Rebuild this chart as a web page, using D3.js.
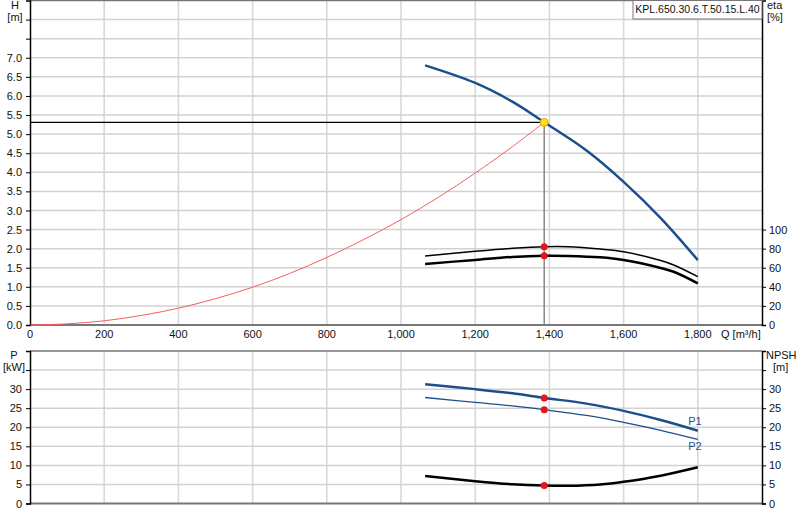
<!DOCTYPE html>
<html><head><meta charset="utf-8">
<script src="https://cdn.jsdelivr.net/npm/d3@7"></script>
<style>body{margin:0;background:#fff}svg{display:block;font-family:"Liberation Sans",Arial,sans-serif}</style>
</head><body><svg id="c" width="800" height="520"></svg>
<script>
const title = "KPL.650.30.6.T.50.15.L.40";
const xTicks = [0,200,400,600,800,1000,1200,1400,1600,1800];
const hTicks = [0,0.5,1,1.5,2,2.5,3,3.5,4,4.5,5,5.5,6,6.5,7,7.5,8];
const etaTicks = [0,20,40,60,80,100];
const pTicks = [0,5,10,15,20,25,30,35];
const duty = {q:1386, h:5.31, eta1:82, eta2:72.6, p1:27.7, p2:24.6, npsh:4.7};

const hQ = [1065,1200,1300,1386,1500,1600,1700,1800];
const hH = [6.80,6.34,5.85,5.31,4.57,3.75,2.80,1.70];
const sysQ = [0,100,200,300,400,500,600,700,800,900,1000,1100,1200,1300,1386];
const sysH = [0,0.03,0.11,0.25,0.44,0.69,0.99,1.35,1.77,2.24,2.76,3.34,3.98,4.67,5.31];
const etaQ = [1065,1200,1300,1386,1450,1537,1600,1700,1735,1800];
const eta1 = [72.3,77.2,80.3,82.0,82.0,79.6,76.8,67.5,62.8,50.6];
const eta2 = [64.0,68.2,71.3,72.6,72.4,70.9,68.1,59.8,55.8,43.7];
const pQ = [1065,1200,1300,1386,1500,1600,1700,1800];
const p1 = [31.3,30.0,28.9,27.7,26.2,24.3,21.9,19.1];
const p2 = [27.8,26.5,25.6,24.6,23.1,21.3,19.2,16.8];
const npQ = [1065,1200,1300,1386,1450,1537,1600,1700,1800];
const npsh = [7.2,5.85,5.05,4.7,4.65,5.0,5.7,7.3,9.5];

const svg = d3.select("#c");
const L=30, R=762;
const x = d3.scaleLinear().domain([0,1973]).range([L,R]);
const yH = d3.scaleLinear().domain([0,8.5]).range([325,0.5]);
const yE = d3.scaleLinear().domain([0,340]).range([325,0.5]);
const yP = d3.scaleLinear().domain([0,40]).range([503.5,351]);
const fmtX = d3.format(",");
const blue = "#1b4f8c";

function panel(y, ticksL, ticksR, fmtL, labelMaxL, labelMaxR, yR){
  const g = svg.append("g");
  const [y0,y1] = y.range();
  g.selectAll(".gv").data(xTicks.slice(1)).enter().append("line")
    .attr("x1",d=>x(d)).attr("x2",d=>x(d)).attr("y1",y1).attr("y2",y0)
    .attr("stroke","#d8d8d8").attr("stroke-width",1.6);
  g.selectAll(".gh").data(ticksL.slice(1)).enter().append("line")
    .attr("x1",L).attr("x2",R).attr("y1",d=>y(d)).attr("y2",d=>y(d))
    .attr("stroke","#d2d2d2").attr("stroke-width",1.5);
  g.append("line").attr("x1",L).attr("x2",R).attr("y1",y1).attr("y2",y1).attr("stroke","#777").attr("stroke-width",1.5);
  g.append("line").attr("x1",L).attr("x2",R).attr("y1",y0).attr("y2",y0).attr("stroke","#777").attr("stroke-width",2);
  const ax = d3.axisLeft(y).tickValues(ticksL).tickSize(4).tickPadding(4)
    .tickFormat(d=> d<=labelMaxL ? fmtL(d) : "");
  const ga = g.append("g").attr("transform",`translate(${L},0)`).call(ax);
  ga.select(".domain").attr("stroke","#000").attr("stroke-width",1.5);
  ga.selectAll("text").attr("font-size",11).attr("fill","#111").attr("font-family","Liberation Sans, Arial, sans-serif");
  const axr = d3.axisRight(yR).tickValues(ticksR).tickSize(4).tickPadding(3)
    .tickFormat(d=> d<=labelMaxR ? d : "");
  const gr = g.append("g").attr("transform",`translate(${R},0)`).call(axr);
  gr.select(".domain").attr("stroke","#000").attr("stroke-width",1.5);
  gr.selectAll("text").attr("font-size",11).attr("fill","#111").attr("font-family","Liberation Sans, Arial, sans-serif");
  return g;
}

panel(yH, hTicks, etaTicks, d3.format(".1f"), 7.0, 100, yE);
panel(yP, pTicks, pTicks, d3.format("d"), 30, 30, yP);

svg.append("g").selectAll("text").data(xTicks).enter().append("text")
  .attr("x",d=>x(d)).attr("y",338).attr("text-anchor","middle")
  .attr("font-size",11).attr("fill","#111").text(d=>fmtX(d));
svg.append("text").attr("x",721).attr("y",338).attr("font-size",11).attr("fill","#111").text("Q [m³/h]");

const T = (t,xx,yy,anchor)=>svg.append("text").attr("x",xx).attr("y",yy).attr("font-size",11).attr("fill","#111").attr("text-anchor",anchor||"middle").text(t);
T("H",15,9); T("[m]",15,21);
T("eta",767,9,"start"); T("[%]",767,21,"start");
T("P",14,359); T("[kW]",14,371);
T("NPSH",766,359,"start"); T("[m]",773,371,"start");

svg.append("rect").attr("x",633).attr("y",0.5).attr("width",129).attr("height",18.5).attr("fill","#fff").attr("stroke","#777");
T(title,697.5,13).attr("font-size",10.5);

const line = (xs,ys,yS)=>d3.line().curve(d3.curveCatmullRom.alpha(0.5)).x((d,i)=>x(xs[i])).y((d,i)=>yS(ys[i]))(ys);

svg.append("line").attr("x1",L).attr("x2",x(duty.q)).attr("y1",yH(duty.h)).attr("y2",yH(duty.h)).attr("stroke","#000").attr("stroke-width",1.2);
svg.append("line").attr("x1",x(duty.q)).attr("x2",x(duty.q)).attr("y1",yH(duty.h)).attr("y2",yH(0)).attr("stroke","#888").attr("stroke-width",1.5);

svg.append("path").attr("d",line(sysQ,sysH,yH)).attr("fill","none").attr("stroke","#f26060").attr("stroke-width",1);
svg.append("path").attr("d",line(hQ,hH,yH)).attr("fill","none").attr("stroke",blue).attr("stroke-width",2.5);
svg.append("path").attr("d",line(etaQ,eta1,yE)).attr("fill","none").attr("stroke","#000").attr("stroke-width",1.5);
svg.append("path").attr("d",line(etaQ,eta2,yE)).attr("fill","none").attr("stroke","#000").attr("stroke-width",2.5);
svg.append("path").attr("d",line(pQ,p1,yP)).attr("fill","none").attr("stroke",blue).attr("stroke-width",2.5);
svg.append("path").attr("d",line(pQ,p2,yP)).attr("fill","none").attr("stroke",blue).attr("stroke-width",1.3);
svg.append("path").attr("d",line(npQ,npsh,yP)).attr("fill","none").attr("stroke","#000").attr("stroke-width",2.5);

T("P1",695,425,"middle").attr("fill",blue);
T("P2",695,450,"middle").attr("fill",blue);

const dot=(yy)=>svg.append("circle").attr("cx",x(duty.q)).attr("cy",yy).attr("r",3.5).attr("fill","#e8141b");
dot(yE(duty.eta1)); dot(yE(duty.eta2)); dot(yP(duty.p1)); dot(yP(duty.p2)); dot(yP(duty.npsh));
svg.append("circle").attr("cx",x(duty.q)).attr("cy",yH(duty.h)).attr("r",3.8).attr("fill","#ffe600").attr("stroke","#f0a020").attr("stroke-width",1.2);
</script></body></html>
